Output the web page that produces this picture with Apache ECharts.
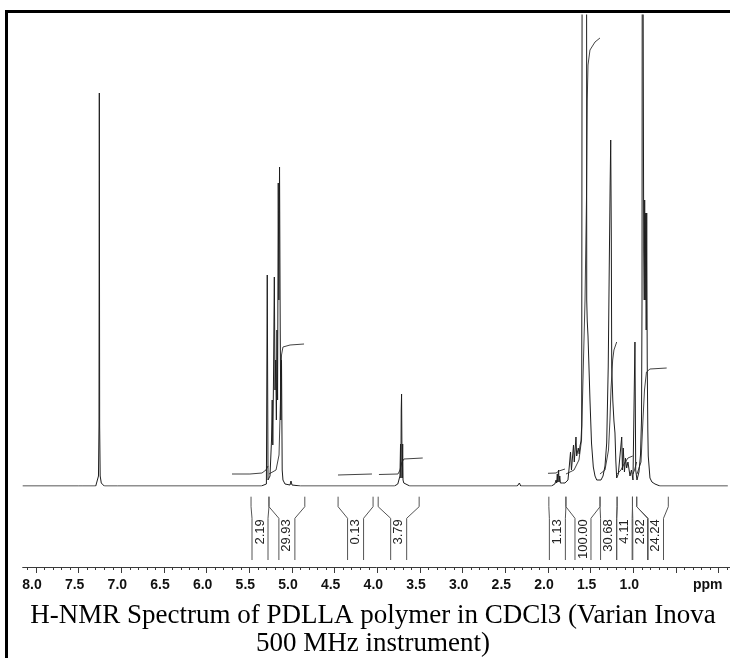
<!DOCTYPE html>
<html><head><meta charset="utf-8">
<script src="https://cdn.jsdelivr.net/npm/echarts@6/dist/echarts.min.js"></script>
<style>
html,body{margin:0;padding:0;background:#fff;overflow:hidden}
#wrap{position:relative;width:730px;height:658px;overflow:hidden}
#c{width:730px;height:658px}
.bd{position:absolute;background:#000}
</style>
</head><body><div id="wrap"><div id="c"></div>
<div class="bd" style="left:5px;top:9.5px;width:3px;height:650px"></div>
<div class="bd" style="left:5px;top:9.5px;width:725px;height:3px"></div>
</div>
<script>
// ================= DATA (ppm, intensity) =================
const solventPeak = [[7.50,0],[7.46,0],[7.453,2],[7.445,0],[7.30,0],[7.28,2],[7.268,10],[7.262,60],[7.258,393],[7.254,60],[7.248,10],[7.235,3],[7.22,1],[7.20,0],[7.045,0],[7.036,2],[7.028,0]];
const methinePeaks = [[5.36,0],[5.30,2],[5.290,211],[5.281,6],[5.258,10],[5.240,46],[5.232,86],[5.225,41],[5.217,106],[5.207,209],[5.199,96],[5.191,126],[5.183,66],[5.176,156],[5.169,86],[5.161,303],[5.154,186],[5.146,319],[5.138,156],[5.131,66],[5.123,126],[5.115,16],[5.106,6],[5.082,2],[5.023,1],[5.012,5],[5.000,1],[4.90,0]];
const peaks37 = [[3.80,0],[3.76,2],[3.74,4],[3.735,10],[3.728,42],[3.724,8],[3.720,76],[3.716,92],[3.712,40],[3.708,8],[3.703,42],[3.699,6],[3.69,3],[3.67,1],[3.62,0]];
const peak233 = [[2.36,0],[2.335,3],[2.32,0]];
const peaks19 = [[1.96,0],[1.92,2],[1.905,6],[1.898,3],[1.891,12],[1.885,4],[1.876,16],[1.870,4],[1.862,10],[1.855,3],[1.83,3]];
const aliphaticPeaks = [[1.801,3],[1.766,6],[1.750,20],[1.736,34],[1.725,16],[1.719,16],[1.701,41],[1.692,24],[1.684,24],[1.672,49],[1.664,30],[1.657,28],[1.645,38],[1.634,32],[1.625,40],[1.613,45],[1.605,60],[1.599,620],[1.58,700],[1.56,700],[1.548,620],[1.546,186],[1.540,165],[1.531,150],[1.520,120],[1.508,86],[1.490,43],[1.469,19],[1.449,10],[1.429,6],[1.408,4],[1.379,6],[1.355,10],[1.332,20],[1.312,43],[1.294,119],[1.282,219],[1.272,300],[1.265,346],[1.258,250],[1.253,119],[1.240,85],[1.227,65],[1.215,53],[1.205,25],[1.195,8],[1.176,12],[1.162,10],[1.136,49],[1.127,16],[1.118,38],[1.104,14],[1.092,28],[1.078,18],[1.063,24],[1.039,10],[1.022,16],[1.004,6],[0.989,8],[0.981,144],[0.972,16],[0.957,6],[0.934,14],[0.916,31],[0.904,66],[0.898,186],[0.895,620],[0.887,560],[0.883,406],[0.878,236],[0.872,186],[0.867,286],[0.861,186],[0.855,273],[0.849,156],[0.843,273],[0.837,126],[0.830,56],[0.825,30],[0.805,8],[0.782,4],[0.746,2],[0.688,0]];

// integral regions (ppm), values and integral traces
const integralFrom  = [5.48, 5.27, 4.46, 3.99, 1.99, 1.79, 1.39, 1.19, 1.01, 0.96];
const integralTo    = [5.27, 4.85, 4.05, 3.51, 1.79, 1.39, 1.19, 1.01, 0.96, 0.59];
const integralValue = [2.19, 29.93, 0.13, 3.79, 1.13, 100.00, 30.68, 4.11, 2.82, 24.24];
const integralTraces = [
  [[5.703,12],[5.493,12],[5.352,13],[5.305,16],[5.281,20]],
  [[5.270,12],[5.187,16],[5.152,31],[5.135,86],[5.123,131],[5.106,139],[5.023,141],[4.859,142]],
  [[4.461,11],[4.063,12]],
  [[3.981,11.5],[3.758,12],[3.734,16],[3.711,24],[3.688,27],[3.468,28]],
  [[2.000,12.7],[1.906,13],[1.871,15],[1.801,17]],
  [[1.789,12],[1.695,16],[1.637,26],[1.607,46],[1.590,106],[1.566,186],[1.549,286],[1.540,386],[1.531,421],[1.508,436],[1.449,444],[1.391,448]],
  [[1.391,12],[1.332,16],[1.291,36],[1.274,66],[1.262,96],[1.242,126],[1.227,136],[1.195,144]],
  [[1.188,12],[1.145,16],[1.109,22],[1.063,28],[1.007,30]],
  [[1.004,12],[0.986,16],[0.961,24]],
  [[0.957,12],[0.910,24],[0.887,66],[0.869,96],[0.846,114],[0.805,117],[0.609,118]]
];

// axis ticks and labels (ppm)
const majorTicks = [];  for (let i = 0; i <= 16; i++) majorTicks.push(+(i * 0.5).toFixed(1));
const minorTicks = [];  for (let i = -1; i <= 81; i++) if (i % 5 !== 0) minorTicks.push(+(i * 0.1).toFixed(1));
const tickLabels = [8.0, 7.5, 7.0, 6.5, 6.0, 5.5, 5.0, 4.5, 4.0, 3.5, 3.0, 2.5, 2.0, 1.5, 1.0];
const titleLines = ['H-NMR Spectrum of PDLLA polymer in CDCl3 (Varian Inova', '500 MHz instrument)'];

// ================= LAYOUT =================
const X_MAX = 8.156, X_MIN = -0.133;
const spectrum = [[X_MAX, 0]].concat(solventPeak, methinePeaks, peaks37, peak233, peaks19, aliphaticPeaks, [[X_MIN, 0]]);

const labelCentre = [];
const minGap = 0.18;
integralFrom.forEach((f, i) => {
  let c = (f + integralTo[i]) / 2;
  if (i > 0 && c > labelCentre[i - 1] - minGap) c = labelCentre[i - 1] - minGap;
  labelCentre.push(c);
});
const bracketData = integralFrom.map((f, i) => [f, integralTo[i], integralValue[i], labelCentre[i]]);

const chart = echarts.init(document.getElementById('c'), null, {renderer: 'canvas'});
const baseAxis = {type: 'value', inverse: true, min: X_MIN, max: X_MAX, position: 'bottom', offset: 81,
  splitLine: {show: false}, axisLabel: {show: false}, axisTick: {show: false}, axisLine: {show: false, onZero: false}};
const lineGray = '#3a3a3a';
const sans = '"Liberation Sans", Arial, sans-serif';
const serif = '"Liberation Serif", "Times New Roman", serif';

const series = [{
  type: 'line', data: spectrum, showSymbol: false, symbol: 'none',
  lineStyle: {color: '#1e1e1e', width: 1}, clip: true, silent: true, z: 3
}];
integralTraces.forEach(tr => series.push({
  type: 'line', data: tr, showSymbol: false, symbol: 'none',
  lineStyle: {color: '#444', width: 1}, clip: true, silent: true, z: 2
}));
series.push({
  type: 'custom', data: bracketData, clip: false, silent: true, z: 4,
  renderItem(params, api) {
    const xl = api.coord([api.value(0), 0])[0];
    const xr = api.coord([api.value(1), 0])[0];
    const xc = api.coord([api.value(3), 0])[0];
    const y0 = api.coord([0, 0])[1];
    const yTop = y0 + 10.7, yBend = y0 + 20.7, yMid = y0 + 32.3, yBot = y0 + 74;
    const ls = {stroke: '#555', lineWidth: 1, fill: null};
    return {type: 'group', children: [
      {type: 'polyline', shape: {points: [[xl, yTop], [xl, yBend], [xc - 8, yMid], [xc - 8, yBot]]}, style: ls},
      {type: 'polyline', shape: {points: [[xr, yTop], [xr, yBend], [xc + 8, yMid], [xc + 8, yBot]]}, style: ls},
      {type: 'text', x: xc, y: yMid + 1, rotation: Math.PI / 2,
        style: {text: api.value(2).toFixed(2), x: 0, y: 0, align: 'right', verticalAlign: 'middle',
          fontSize: 13, fontFamily: sans, fill: '#222'}}
    ]};
  }
});

chart.setOption({
  animation: false,
  backgroundColor: '#ffffff',
  grid: {left: 22.7, right: 0, top: 15, bottom: 172},
  xAxis: [
    Object.assign({}, baseAxis, {axisLine: {show: true, onZero: false, lineStyle: {color: lineGray, width: 1}}}),
    Object.assign({}, baseAxis, {
      axisTick: {show: true, length: 6, customValues: majorTicks, lineStyle: {color: lineGray, width: 1}},
      axisLabel: {show: true, customValues: tickLabels, margin: 11, padding: [0, 8, 0, 0],
        formatter: v => Number(v).toFixed(1), color: '#111', fontSize: 14, fontWeight: 'bold', fontFamily: sans}
    }),
    Object.assign({}, baseAxis, {
      axisTick: {show: true, length: 3, customValues: minorTicks, lineStyle: {color: lineGray, width: 1}}
    })
  ],
  yAxis: [{type: 'value', min: 0, max: 471, show: false}],
  series: series,
  graphic: [
    {type: 'text', left: 693, top: 578, silent: true,
      style: {text: 'ppm', fontSize: 14, fontWeight: 'bold', fontFamily: sans, fill: '#111'}},
    {type: 'text', x: 373, y: 616, silent: true,
      style: {text: titleLines[0], align: 'center', verticalAlign: 'middle', fontSize: 27, fontFamily: serif, fill: '#000'}},
    {type: 'text', x: 373, y: 644, silent: true,
      style: {text: titleLines[1], align: 'center', verticalAlign: 'middle', fontSize: 27, fontFamily: serif, fill: '#000'}},
    {type: 'rect', silent: true, z: 100, shape: {x: 727.8, y: 13, width: 3, height: 552}, style: {fill: '#ffffff'}}
  ]
});
</script>
</body></html>
